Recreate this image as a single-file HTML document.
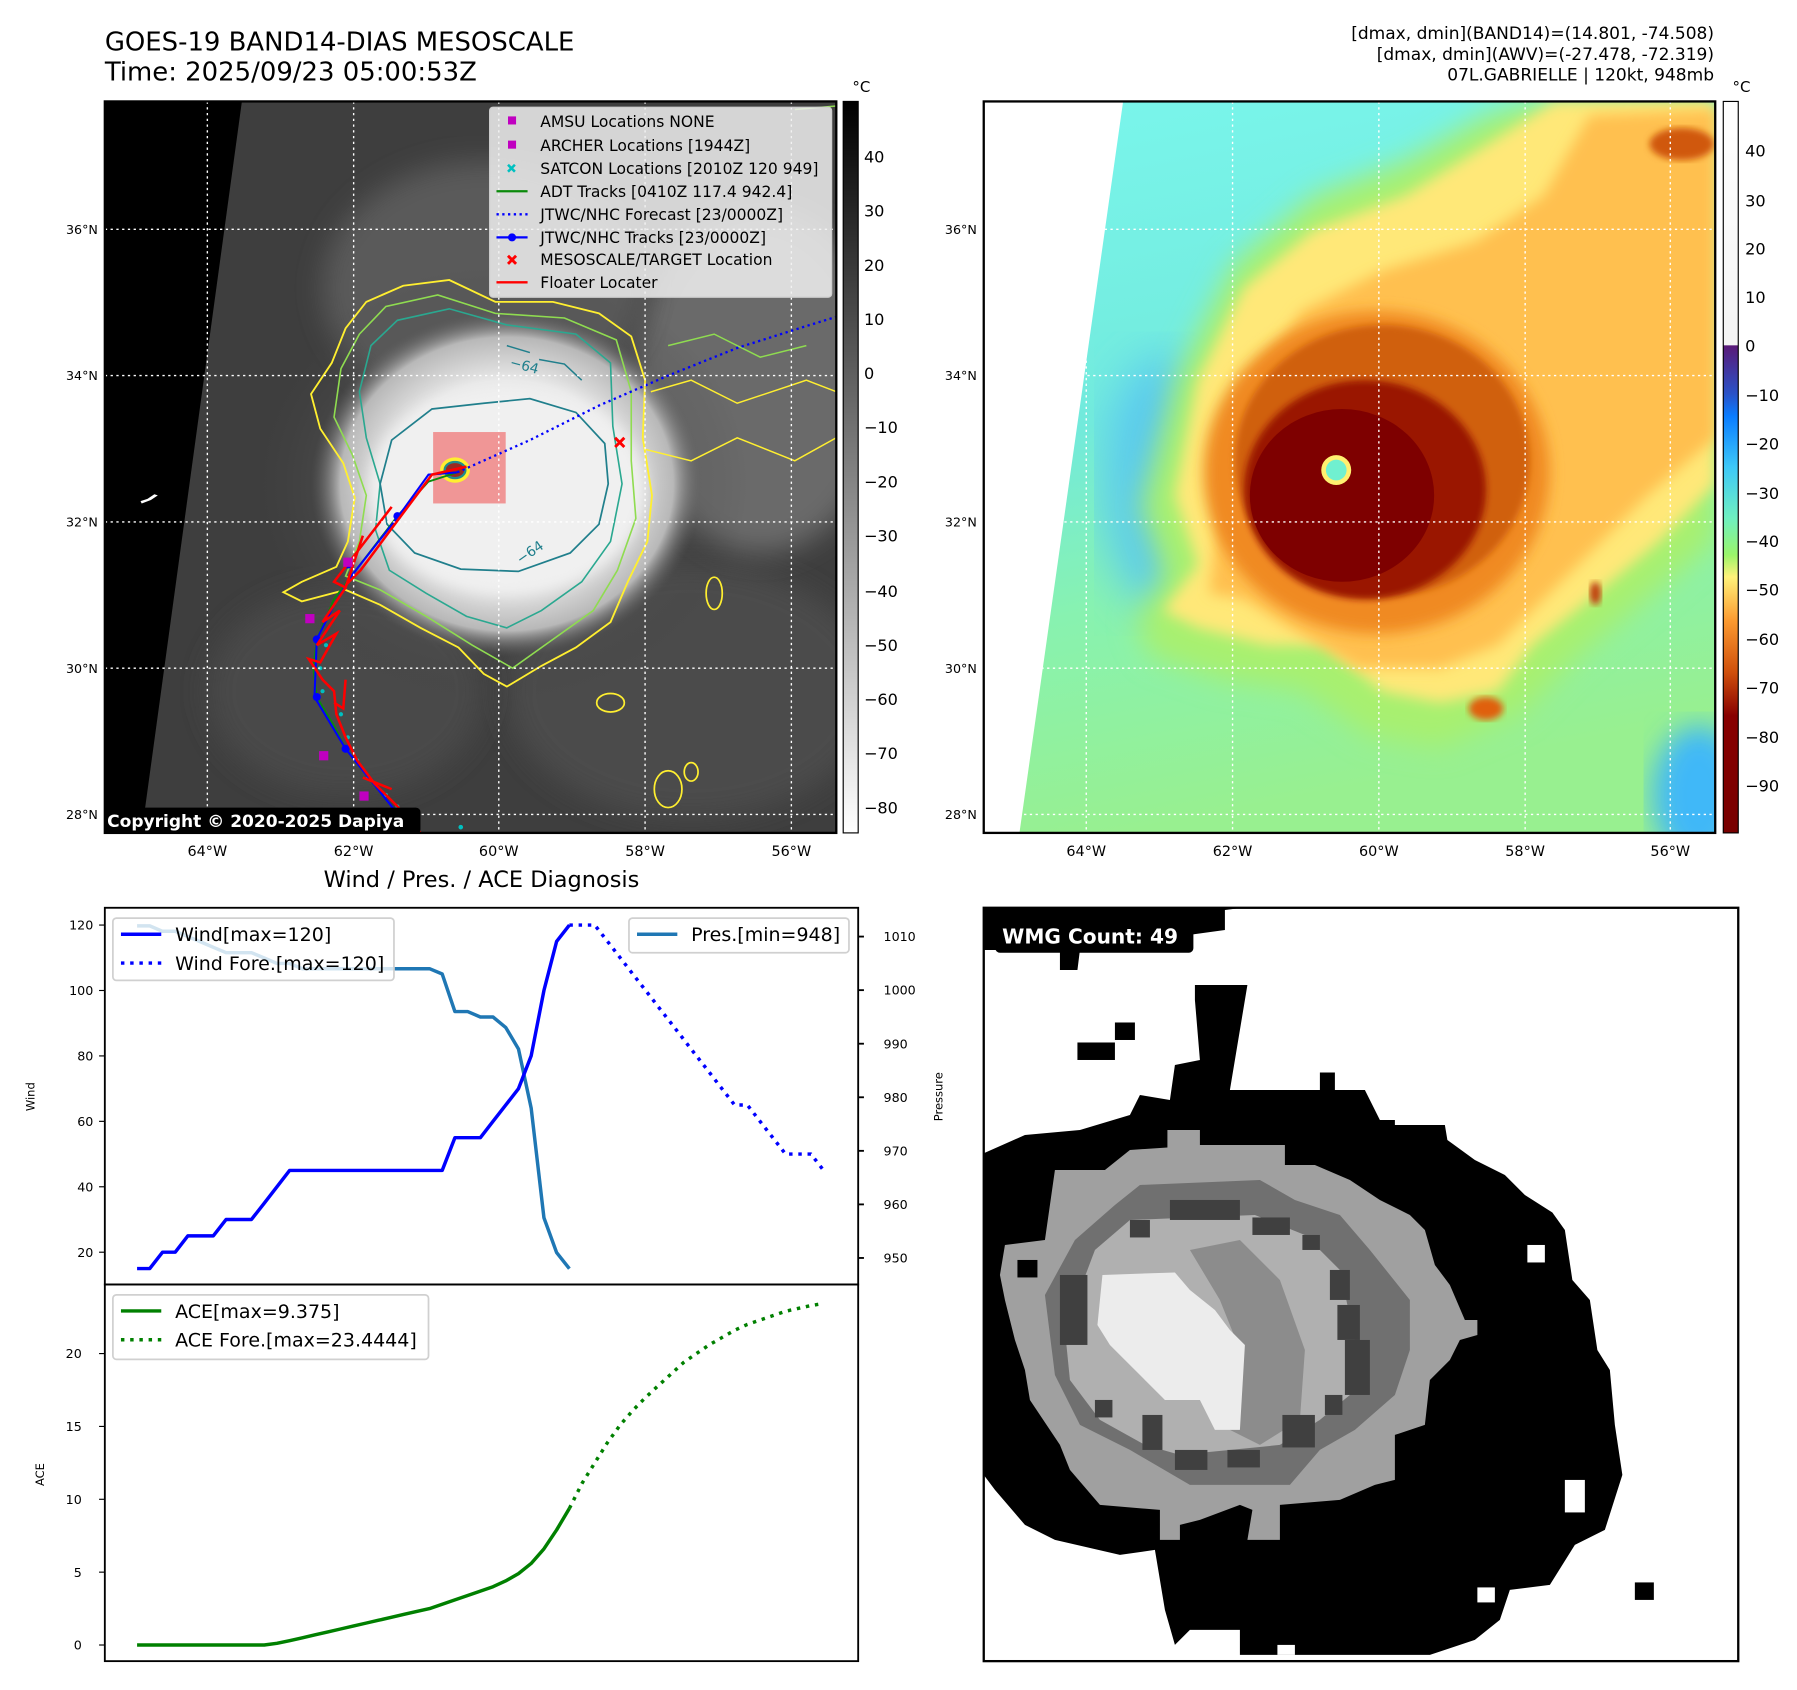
<!DOCTYPE html>
<html><head><meta charset="utf-8"><title>GOES-19 Mesoscale</title>
<style>
html,body{margin:0;padding:0;background:#fff;}
svg{display:block;font-family:"DejaVu Sans","Liberation Sans",sans-serif;}
</style></head>
<body>
<svg id="root" width="1797" height="1690" viewBox="0 0 1560 1467" xmlns="http://www.w3.org/2000/svg">
<defs>
  <linearGradient id="cbGray" x1="0" y1="1" x2="0" y2="0">
    <stop offset="0" stop-color="#ffffff"/><stop offset="1" stop-color="#000000"/>
  </linearGradient>
  <linearGradient id="cbColor" x1="0" y1="0" x2="0" y2="1">
    <stop offset="0" stop-color="#ffffff"/>
    <stop offset="0.333" stop-color="#f4f4f4"/>
    <stop offset="0.334" stop-color="#5a1a78"/>
    <stop offset="0.40" stop-color="#2a52c8"/>
    <stop offset="0.43" stop-color="#0a7cff"/>
    <stop offset="0.50" stop-color="#3ec8f8"/>
    <stop offset="0.57" stop-color="#6ff0c0"/>
    <stop offset="0.62" stop-color="#9af56a"/>
    <stop offset="0.65" stop-color="#fff27a"/>
    <stop offset="0.71" stop-color="#fb9a30"/>
    <stop offset="0.78" stop-color="#d0500c"/>
    <stop offset="0.84" stop-color="#880000"/>
    <stop offset="1" stop-color="#780000"/>
  </linearGradient>
  <radialGradient id="cloudGray" cx="0.5" cy="0.5" r="0.5">
    <stop offset="0" stop-color="#f2f2f2"/>
    <stop offset="0.6" stop-color="#e8e8e8"/>
    <stop offset="0.85" stop-color="#b8b8b8"/>
    <stop offset="1" stop-color="#606060" stop-opacity="0"/>
  </radialGradient>
  <radialGradient id="hazeGray" cx="0.5" cy="0.5" r="0.5">
    <stop offset="0" stop-color="#9a9a9a"/>
    <stop offset="1" stop-color="#3c3c3c" stop-opacity="0"/>
  </radialGradient>
  <linearGradient id="rBase" x1="0" y1="0" x2="0.2" y2="1">
    <stop offset="0" stop-color="#7af6ec"/>
    <stop offset="0.45" stop-color="#72eadc"/>
    <stop offset="0.7" stop-color="#88f2b0"/>
    <stop offset="1" stop-color="#98f090"/>
  </linearGradient>
  <filter id="blur6"><feGaussianBlur stdDeviation="6"/></filter>
  <filter id="blur3"><feGaussianBlur stdDeviation="3"/></filter>
  <filter id="blur12"><feGaussianBlur stdDeviation="12"/></filter>
  <filter id="blur20"><feGaussianBlur stdDeviation="20"/></filter>
  <clipPath id="clipL"><rect x="91" y="88" width="635" height="635"/></clipPath>
  <clipPath id="clipR"><rect x="854" y="88" width="635" height="635"/></clipPath>
  <clipPath id="clipW"><rect x="854" y="788" width="655" height="654"/></clipPath>
</defs>

<!-- Titles -->
<text x="91" y="44" font-size="22.5" fill="#000">GOES-19 BAND14-DIAS MESOSCALE</text>
<text x="91" y="70" font-size="22.5" fill="#000">Time: 2025/09/23 05:00:53Z</text>
<g font-size="14.8" text-anchor="end" fill="#000">
  <text x="1488" y="34">[dmax, dmin](BAND14)=(14.801, -74.508)</text>
  <text x="1488" y="52">[dmax, dmin](AWV)=(-27.478, -72.319)</text>
  <text x="1488" y="70">07L.GABRIELLE | 120kt, 948mb</text>
</g>

<!-- LEFT MAP -->
<g clip-path="url(#clipL)">
  <rect x="91" y="88" width="635" height="635" fill="#3e3e3e"/>
  <ellipse cx="600" cy="600" rx="160" ry="110" fill="#4c4c4c" filter="url(#blur12)"/>
  <ellipse cx="300" cy="600" rx="120" ry="90" fill="#4a4a4a" filter="url(#blur12)"/>
  <ellipse cx="660" cy="330" rx="110" ry="150" fill="#6a6a6a" filter="url(#blur12)"/>
  <ellipse cx="420" cy="250" rx="140" ry="110" fill="#5a5a5a" filter="url(#blur12)"/>
  <ellipse cx="430" cy="420" rx="220" ry="190" fill="url(#hazeGray)"/>
  <ellipse cx="440" cy="420" rx="170" ry="150" fill="url(#cloudGray)"/>
  <ellipse cx="440" cy="425" rx="120" ry="90" fill="#f0f0f0" filter="url(#blur6)"/>
  <polygon points="91,88 210,88 123,723 91,723" fill="#000"/>
  <path d="M123,437 l8,-3 l6,-4 l-3,-1 l-6,4 l-6,2z" fill="#fff"/>
  <path d="M300,285 L318,262 L350,248 L390,243 L430,262 L480,262 L520,272 L548,292 L560,330 L558,380 L566,430 L562,470 L545,505 L530,540 L500,562 L470,578 L440,596 L420,585 L398,562 L365,545 L330,525 L300,512 L262,522 L246,514 L262,505 L292,492 L302,470 L308,432 L298,402 L278,372 L270,342 L288,315 Z" fill="none" stroke="#ffef30" stroke-width="1.6"/>
  <path d="M312,290 L335,266 L380,256 L430,272 L490,276 L535,295 L548,340 L548,400 L552,450 L536,495 L515,530 L480,555 L445,580 L410,560 L370,535 L330,512 L300,500 L312,470 L318,430 L306,395 L290,362 L296,320 Z" fill="none" stroke="#8fdc50" stroke-width="1.4"/>
  <path d="M322,300 L345,278 L390,268 L440,282 L500,290 L530,315 L532,370 L540,420 L530,470 L505,505 L470,530 L440,545 L405,535 L370,515 L338,495 L326,460 L330,420 L318,380 L312,340 Z" fill="none" stroke="#2aa890" stroke-width="1.4"/>
  <path d="M330,420 L340,382 L375,355 L420,350 L460,346 L500,358 L525,385 L528,420 L520,455 L495,480 L450,496 L400,494 L360,480 L336,455 Z" fill="none" stroke="#207f8c" stroke-width="1.5"/>
  <path d="M468,312 L490,316 L505,330 M440,300 L460,306" fill="none" stroke="#207f8c" stroke-width="1.3"/>
  <text x="442" y="318" font-size="12" fill="#207f8c" transform="rotate(15 442 318)">−64</text>
  <text x="452" y="490" font-size="12" fill="#207f8c" transform="rotate(-35 452 490)">−64</text>
  <ellipse cx="620" cy="515" rx="7" ry="14" fill="none" stroke="#ffef30" stroke-width="1.5"/>
  <ellipse cx="530" cy="610" rx="12" ry="8" fill="none" stroke="#ffef30" stroke-width="1.5"/>
  <ellipse cx="580" cy="685" rx="12" ry="16" fill="none" stroke="#ffef30" stroke-width="1.5"/>
  <ellipse cx="600" cy="670" rx="6" ry="8" fill="none" stroke="#ffef30" stroke-width="1.5"/>
  <path d="M565,340 L600,330 L640,350 L700,330 L726,340 M560,390 L600,400 L640,380 L690,400 L726,380" fill="none" stroke="#ffef30" stroke-width="1.3"/>
  <path d="M580,300 L620,290 L660,310 L700,300 M690,95 L726,92" fill="none" stroke="#8fdc50" stroke-width="1.3"/>
  <rect x="376" y="375" width="63" height="62" fill="#f08080" fill-opacity="0.8"/>
  <ellipse cx="395" cy="408" rx="13" ry="11" fill="#ffef30"/>
  <ellipse cx="395" cy="408" rx="10" ry="8" fill="#208c8c"/>
  <ellipse cx="395" cy="408" rx="8" ry="6" fill="#9a2a20"/>
  <path d="M397,410 L460,382 L520,352 L580,326 L640,302 L700,283 L726,275" fill="none" stroke="#0000ff" stroke-width="2" stroke-dasharray="2 3"/>
  <path d="M397,410 L372,418 L345,448 L305,500 L290,520 L275,555 L272,580 L275,605 L290,630 L300,650 L325,680 L345,700 L365,723" fill="none" stroke="#0b8a0b" stroke-width="1.6"/>
  <g fill="#00c0c0">
    <circle cx="283" cy="560" r="1.8"/><circle cx="278" cy="580" r="1.8"/><circle cx="280" cy="600" r="1.8"/><circle cx="296" cy="620" r="1.8"/><circle cx="302" cy="640" r="1.8"/><circle cx="310" cy="660" r="1.8"/><circle cx="320" cy="675" r="1.8"/><circle cx="335" cy="690" r="1.8"/><circle cx="345" cy="700" r="1.8"/><circle cx="400" cy="718" r="2"/>
  </g>
  <path d="M397,410 L372,412 L346,448 L305,500 L290,525 L275,555 L273,605 L300,650 L340,700 L360,723" fill="none" stroke="#0000ff" stroke-width="1.8"/>
  <g fill="#0000ff"><circle cx="345" cy="448" r="3.5"/><circle cx="275" cy="555" r="3.5"/><circle cx="275" cy="605" r="3.5"/><circle cx="300" cy="650" r="3.5"/><circle cx="302" cy="490" r="3.5"/></g>
  <path d="M405,405 L375,412 L345,452 L313,495 L300,508 M315,465 L300,510 L290,505 L340,440 M300,510 L280,540 L295,530 L275,560 L292,550 L278,575 L268,572 L280,590 L290,600 L292,620 L300,640 L310,660 L325,680 L335,690 L345,700 L365,723 M300,590 L298,615 L290,610 M315,675 L340,685" fill="none" stroke="#ff0000" stroke-width="2.2"/>
  <g fill="#c000c0"><rect x="265" y="533" width="8" height="8"/><rect x="277" y="652" width="8" height="8"/><rect x="312" y="687" width="8" height="8"/><rect x="298" y="484" width="8" height="8"/></g>
  <path d="M534,380 l8,8 M542,380 l-8,8" stroke="#ff0000" stroke-width="2.5"/>
  <g stroke="#fff" stroke-width="1.2" stroke-dasharray="2 3">
    <line x1="180" y1="88" x2="180" y2="723"/><line x1="307" y1="88" x2="307" y2="723"/><line x1="433" y1="88" x2="433" y2="723"/><line x1="560" y1="88" x2="560" y2="723"/><line x1="687" y1="88" x2="687" y2="723"/>
    <line x1="91" y1="199" x2="726" y2="199"/><line x1="91" y1="326" x2="726" y2="326"/><line x1="91" y1="453" x2="726" y2="453"/><line x1="91" y1="580" x2="726" y2="580"/><line x1="91" y1="707" x2="726" y2="707"/>
  </g>
  <g>
    <rect x="425" y="93" width="297" height="165" rx="3" fill="#f0f0f0" fill-opacity="0.85" stroke="#cccccc"/>
    <g font-size="13.5" fill="#000">
      <rect x="441" y="101" width="7" height="7" fill="#c000c0"/><text x="469" y="110">AMSU Locations NONE</text>
      <rect x="441" y="122" width="7" height="7" fill="#c000c0"/><text x="469" y="131">ARCHER Locations [1944Z]</text>
      <path d="M441,143 l6,6 M447,143 l-6,6" stroke="#00c0c0" stroke-width="2.2"/><text x="469" y="151">SATCON Locations [2010Z 120 949]</text>
      <line x1="431" y1="166" x2="458" y2="166" stroke="#0b8a0b" stroke-width="2"/><text x="469" y="171">ADT Tracks [0410Z 117.4 942.4]</text>
      <line x1="431" y1="186" x2="458" y2="186" stroke="#0000ff" stroke-width="2" stroke-dasharray="2 3"/><text x="469" y="191">JTWC/NHC Forecast [23/0000Z]</text>
      <line x1="431" y1="206" x2="458" y2="206" stroke="#0000ff" stroke-width="2"/><circle cx="444.5" cy="206" r="3.5" fill="#0000ff"/><text x="469" y="211">JTWC/NHC Tracks [23/0000Z]</text>
      <path d="M441,222 l7,7 M448,222 l-7,7" stroke="#ff0000" stroke-width="2.5"/><text x="469" y="230">MESOSCALE/TARGET Location</text>
      <line x1="431" y1="245" x2="458" y2="245" stroke="#ff0000" stroke-width="2"/><text x="469" y="250">Floater Locater</text>
    </g>
  </g>
  <rect x="88" y="701" width="277" height="23" rx="4" fill="#000"/>
  <text x="93" y="718" font-size="14.8" font-weight="bold" fill="#fff">Copyright © 2020-2025 Dapiya</text>
</g>
<rect x="91" y="88" width="635" height="635" fill="none" stroke="#000" stroke-width="2"/>
<g>
  <rect x="732" y="88" width="13" height="635" fill="url(#cbGray)" stroke="#000" stroke-width="1"/>
  <text x="740" y="80" font-size="13">°C</text>
  <g font-size="14" fill="#000">
    <text x="750" y="141">40</text><text x="750" y="188">30</text><text x="750" y="235">20</text><text x="750" y="282">10</text><text x="750" y="329">0</text>
    <text x="750" y="376">−10</text><text x="750" y="423">−20</text><text x="750" y="470">−30</text><text x="750" y="518">−40</text><text x="750" y="565">−50</text>
    <text x="750" y="612">−60</text><text x="750" y="659">−70</text><text x="750" y="706">−80</text>
  </g>
</g>
<g font-size="11" fill="#000" text-anchor="end">
  <text x="85" y="203">36°N</text><text x="85" y="330">34°N</text><text x="85" y="457">32°N</text><text x="85" y="584">30°N</text><text x="85" y="711">28°N</text>
</g>
<g font-size="12.5" fill="#000" text-anchor="middle">
  <text x="180" y="743">64°W</text><text x="307" y="743">62°W</text><text x="433" y="743">60°W</text><text x="560" y="743">58°W</text><text x="687" y="743">56°W</text>
</g>

<!-- RIGHT MAP -->
<g clip-path="url(#clipR)">
  <rect x="854" y="88" width="635" height="635" fill="url(#rBase)"/>
  <ellipse cx="1010" cy="420" rx="50" ry="110" fill="#58c8f0" filter="url(#blur20)"/>
  <ellipse cx="1475" cy="690" rx="40" ry="60" fill="#40b8f8" filter="url(#blur12)"/>
  <path d="M990,440 L1020,330 L1070,230 L1140,170 L1220,140 L1290,100 L1330,88 L1489,88 L1489,470 L1430,520 L1370,570 L1320,620 L1250,650 L1190,640 L1130,600 L1060,590 L1000,570 L985,540 L1010,500 Z" fill="#a8f070" filter="url(#blur12)"/>
  <path d="M1020,430 L1040,330 L1080,250 L1140,200 L1220,170 L1300,120 L1350,88 L1489,88 L1489,420 L1440,470 L1380,520 L1330,560 L1300,600 L1250,610 L1200,600 L1150,560 L1100,560 L1040,545 L1010,530 L1040,490 Z" fill="#ffe878" filter="url(#blur6)"/>
  <path d="M1060,430 L1080,340 L1130,270 L1200,235 L1280,210 L1340,170 L1380,100 L1489,95 L1489,380 L1430,430 L1360,500 L1300,560 L1250,580 L1180,580 L1120,545 L1080,520 L1050,515 Z" fill="#ffc050" filter="url(#blur6)"/>
  <ellipse cx="1195" cy="410" rx="150" ry="140" fill="#f08a20" filter="url(#blur6)"/>
  <ellipse cx="1200" cy="400" rx="128" ry="118" fill="#d0600c" filter="url(#blur3)"/>
  <ellipse cx="1185" cy="425" rx="105" ry="95" fill="#9a1800" filter="url(#blur3)"/>
  <ellipse cx="1165" cy="430" rx="80" ry="75" fill="#7e0000"/>
  <ellipse cx="1460" cy="125" rx="28" ry="14" fill="#d05808" filter="url(#blur3)"/>
  <ellipse cx="1290" cy="615" rx="15" ry="10" fill="#e06010" filter="url(#blur3)"/>
  <ellipse cx="1385" cy="515" rx="5" ry="10" fill="#c04010" filter="url(#blur3)"/>
  <circle cx="1160" cy="408" r="13" fill="#fff070"/>
  <circle cx="1160" cy="408" r="9" fill="#70f0d0"/>
  <polygon points="854,88 975,88 885,723 854,723" fill="#ffffff"/>
  <g stroke="#fff" stroke-width="1.2" stroke-dasharray="2 3">
    <line x1="943" y1="88" x2="943" y2="723"/><line x1="1070" y1="88" x2="1070" y2="723"/><line x1="1197" y1="88" x2="1197" y2="723"/><line x1="1324" y1="88" x2="1324" y2="723"/><line x1="1450" y1="88" x2="1450" y2="723"/>
    <line x1="854" y1="199" x2="1489" y2="199"/><line x1="854" y1="326" x2="1489" y2="326"/><line x1="854" y1="453" x2="1489" y2="453"/><line x1="854" y1="580" x2="1489" y2="580"/><line x1="854" y1="707" x2="1489" y2="707"/>
  </g>
</g>
<rect x="854" y="88" width="635" height="635" fill="none" stroke="#000" stroke-width="2"/>
<g>
  <rect x="1496" y="88" width="13" height="635" fill="url(#cbColor)" stroke="#000" stroke-width="1"/>
  <text x="1504" y="80" font-size="13">°C</text>
  <g font-size="14" fill="#000">
    <text x="1515" y="136">40</text><text x="1515" y="179">30</text><text x="1515" y="221">20</text><text x="1515" y="263">10</text><text x="1515" y="305">0</text>
    <text x="1515" y="348">−10</text><text x="1515" y="390">−20</text><text x="1515" y="433">−30</text><text x="1515" y="475">−40</text><text x="1515" y="517">−50</text>
    <text x="1515" y="560">−60</text><text x="1515" y="602">−70</text><text x="1515" y="645">−80</text><text x="1515" y="687">−90</text>
  </g>
</g>
<g font-size="11" fill="#000" text-anchor="end">
  <text x="848" y="203">36°N</text><text x="848" y="330">34°N</text><text x="848" y="457">32°N</text><text x="848" y="584">30°N</text><text x="848" y="711">28°N</text>
</g>
<g font-size="12.5" fill="#000" text-anchor="middle">
  <text x="943" y="743">64°W</text><text x="1070" y="743">62°W</text><text x="1197" y="743">60°W</text><text x="1324" y="743">58°W</text><text x="1450" y="743">56°W</text>
</g>

<!-- CHART -->
<text x="418" y="770" font-size="19.5" text-anchor="middle">Wind / Pres. / ACE Diagnosis</text>
<g id="chart"></g>

<!-- WMG -->
<g clip-path="url(#clipW)">
  <rect x="854" y="788" width="655" height="654" fill="#fff"/>
  <g transform="translate(850.7,781.25) scale(0.434)">
    <polygon fill="#000" points="0,510 90,470 200,460 300,430 320,390 380,400 390,330 440,320 430,200 430,170 535,170 500,380 680,380 680,345 710,345 710,380 770,380 800,440 830,440 830,450 930,450 935,480 990,520 1050,550 1090,590 1145,625 1170,660 1185,760 1220,800 1235,900 1260,940 1270,1050 1285,1150 1250,1260 1190,1290 1140,1370 1060,1380 1040,1440 990,1480 900,1510 830,1510 520,1510 520,1460 420,1460 390,1490 370,1420 350,1300 280,1310 150,1280 90,1250 30,1180 0,1140"/>
    <polygon fill="#000" points="0,0 570,0 570,10 490,20 490,60 200,100 195,140 160,140 160,100 0,100"/>
    <rect x="195" y="285" width="75" height="35" fill="#000"/><rect x="270" y="245" width="40" height="35" fill="#000"/>
    <rect x="1310" y="1365" width="38" height="35" fill="#000"/>
    <rect x="1095" y="690" width="35" height="35" fill="#fff"/><rect x="1170" y="1160" width="40" height="65" fill="#fff"/><rect x="995" y="1375" width="35" height="30" fill="#fff"/><rect x="595" y="1490" width="35" height="20" fill="#fff"/>
    <polygon fill="#a0a0a0" points="40,750 50,690 130,680 150,540 250,540 300,500 375,495 375,460 440,460 440,490 610,490 610,530 670,530 740,560 800,600 860,630 890,660 910,730 940,770 970,840 995,840 995,870 960,880 940,920 900,960 890,1050 830,1070 830,1160 790,1170 720,1200 600,1210 600,1280 535,1280 545,1220 520,1210 440,1240 400,1250 400,1280 360,1280 360,1220 240,1210 180,1140 160,1090 100,1000 90,940 70,880 50,800"/>
    <rect x="75" y="720" width="40" height="35" fill="#000"/>
    <polygon fill="#707070" points="130,790 190,680 270,610 320,570 560,560 630,600 720,630 780,700 860,800 860,900 830,990 750,1060 680,1100 620,1170 420,1170 300,1100 200,1050 150,950"/>
    <polygon fill="#b0b0b0" points="230,700 300,640 550,630 650,670 720,740 750,880 740,990 680,1040 600,1090 400,1110 330,1090 240,1040 180,960 170,860"/>
    <polygon fill="#8c8c8c" points="420,700 520,680 600,760 650,900 640,1040 560,1090 500,1060 520,900 480,800"/>
    <polygon fill="#ececec" points="245,750 390,745 420,780 470,820 500,860 530,890 520,1060 470,1060 440,1000 370,1000 330,960 290,920 260,890 235,850"/>
    <g fill="#404040">
      <rect x="380" y="600" width="140" height="40"/><rect x="300" y="640" width="40" height="35"/><rect x="545" y="635" width="75" height="35"/><rect x="645" y="670" width="35" height="30"/><rect x="700" y="740" width="40" height="60"/><rect x="715" y="810" width="45" height="70"/><rect x="730" y="880" width="50" height="110"/><rect x="690" y="990" width="35" height="40"/><rect x="605" y="1030" width="65" height="65"/><rect x="390" y="1100" width="65" height="40"/><rect x="495" y="1100" width="65" height="35"/><rect x="325" y="1030" width="40" height="70"/><rect x="230" y="1000" width="35" height="35"/><rect x="160" y="750" width="55" height="140"/>
    </g>
  </g>
  <rect x="864" y="797" width="172" height="30" rx="4" fill="#000"/>
  <text x="870" y="819" font-size="17.5" font-weight="bold" fill="#fff">WMG Count: 49</text>
</g>
<rect x="854" y="788" width="655" height="654" fill="none" stroke="#000" stroke-width="2"/>

<script>
const windObs = [15,15,20,20,25,25,25,30,30,30,35,40,45,45,45,45,45,45,45,45,45,45,45,45,45,55,55,55,60,65,70,80,100,115,120];
const windFcst = [120,120,120,115,110,105,100,95,90,85,80,75,70,65,65,60,55,50,50,50,45];
const presObs = [1012,1012,1011,1011,1010,1009,1008,1007,1007,1007,1006,1005,1005,1004,1004,1004,1004,1004,1004,1004,1004,1004,1004,1004,1003,996,996,995,995,993,989,978,957.5,951,948];
const aceObs = [0,0,0,0,0,0,0,0,0,0,0,0.12,0.3,0.5,0.7,0.9,1.1,1.3,1.5,1.7,1.9,2.1,2.3,2.5,2.8,3.1,3.4,3.7,4.0,4.4,4.9,5.6,6.6,7.9,9.375];
const aceFcst = [9.375,11.1,12.5,13.9,15.1,16.1,17.0,17.8,18.6,19.4,20.0,20.6,21.1,21.6,22.0,22.3,22.6,22.9,23.1,23.3,23.44];
const windTicks = [20,40,60,80,100,120];
const presTicks = [950,960,970,980,990,1000,1010];
const aceTicks = [0,5,10,15,20];

const NS = 'http://www.w3.org/2000/svg';
const chart = document.getElementById('chart');
const X0 = 91, X1 = 745, TOP = 788, MID = 1115, BOT = 1442;
const xOf = i => 119 + i * (715 - 119) / 54;
const yWind = v => 803 + (120 - v) * (1087 - 803) / 100;
const yPres = v => 813 + (1010 - v) * (1092 - 813) / 60;
const yAce = v => 1428 - v * (1428 - 1175) / 20;

function mk(tag, attrs, parent) {
  const e = document.createElementNS(NS, tag);
  for (const k in attrs) e.setAttribute(k, attrs[k]);
  (parent || chart).appendChild(e);
  return e;
}
function line(arr, off, yf, color, dash, name) {
  const pts = arr.map((v, i) => xOf(i + off).toFixed(1) + ',' + yf(v).toFixed(1)).join(' ');
  const p = mk('polyline', {points: pts, fill: 'none', stroke: color, 'stroke-width': 3, 'stroke-linejoin': 'round'});
  if (dash) p.setAttribute('stroke-dasharray', '3 5');
  
  
  return p;
}
function txt(x, y, s, size, anchor, parent) {
  const t = mk('text', {x: x, y: y, 'font-size': size, 'text-anchor': anchor || 'start', fill: '#000'}, parent);
  t.textContent = s;
  return t;
}

line(presObs, 0, yPres, '#1f77b4', false, 'pressure-line');
line(windObs, 0, yWind, '#0000ff', false, 'wind-line');
line(windFcst, 34, yWind, '#0000ff', true, 'wind-forecast-line');
line(aceObs, 0, yAce, '#008000', false, 'ace-line');
line(aceFcst, 34, yAce, '#008000', true, 'ace-forecast-line');

const f1 = mk('rect', {x: X0, y: TOP, width: X1 - X0, height: MID - TOP, fill: 'none', stroke: '#000', 'stroke-width': 1.6});


const f2 = mk('rect', {x: X0, y: MID, width: X1 - X0, height: BOT - MID, fill: 'none', stroke: '#000', 'stroke-width': 1.6});



windTicks.forEach(v => {
  const y = yWind(v);
  mk('line', {x1: X0 - 5, y1: y, x2: X0, y2: y, stroke: '#000', 'stroke-width': 1});
  const t = txt(X0 - 10, y + 4, String(v), 11, 'end');
  
});
presTicks.forEach(v => {
  const y = yPres(v);
  mk('line', {x1: X1, y1: y, x2: X1 + 5, y2: y, stroke: '#000', 'stroke-width': 1.6});
  const t = txt(X1 + 22, y + 4, String(v), 11, 'start');
  
});
aceTicks.forEach(v => {
  const y = yAce(v);
  mk('line', {x1: X0 - 5, y1: y, x2: X0, y2: y, stroke: '#000', 'stroke-width': 1});
  const t = txt(X0 - 20, y + 4, String(v), 11, 'end');
  
});
const yl1 = txt(0, 0, 'Wind', 10, 'middle');
yl1.setAttribute('transform', 'translate(30,952) rotate(-90)');

const yl2 = txt(0, 0, 'Pressure', 10, 'middle');
yl2.setAttribute('transform', 'translate(818,952) rotate(-90)');

const yl3 = txt(0, 0, 'ACE', 10, 'middle');
yl3.setAttribute('transform', 'translate(38,1280) rotate(-90)');


function legend(x, y, w, h, rows, name) {
  const g = mk('g', {});
  
  
  mk('rect', {x: x, y: y, width: w, height: h, rx: 3, fill: '#fff', 'fill-opacity': 0.8, stroke: '#d0d0d0', 'stroke-width': 1.5}, g);
  rows.forEach((r, k) => {
    const ly = y + 14 + k * 25;
    const l = mk('line', {x1: x + 7, y1: ly, x2: x + 42, y2: ly, stroke: r[1], 'stroke-width': 3}, g);
    if (r[2]) l.setAttribute('stroke-dasharray', '3 5');
    txt(x + 54, ly + 6, r[0], 16.5, 'start', g);
  });
}
legend(98, 797, 244, 54, [['Wind[max=120]', '#0000ff', false], ['Wind Fore.[max=120]', '#0000ff', true]], 'wind-legend');
legend(546, 797, 191, 30, [['Pres.[min=948]', '#1f77b4', false]], 'pressure-legend');
legend(98, 1124, 274, 56, [['ACE[max=9.375]', '#008000', false], ['ACE Fore.[max=23.4444]', '#008000', true]], 'ace-legend');
</script>
</svg>
</body></html>
